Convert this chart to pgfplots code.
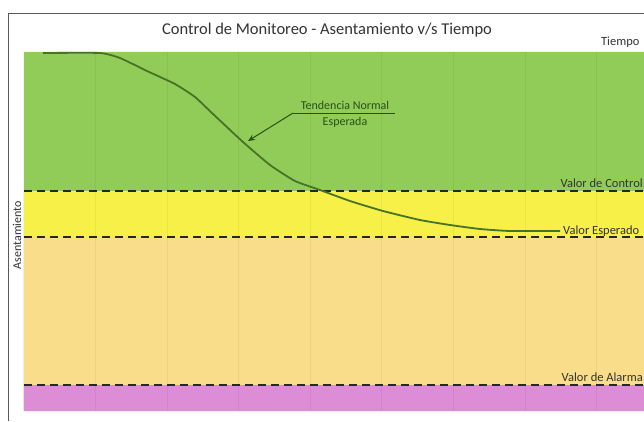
\documentclass[border=0pt]{standalone}
\usepackage{fontspec}
\setmainfont{Carlito}
\usepackage{pgfplots}
\pgfplotsset{compat=1.18}
\usetikzlibrary{arrows.meta}
\definecolor{bgreen}{RGB}{146,204,88}
\definecolor{byellow}{RGB}{246,240,72}
\definecolor{bpeach}{RGB}{250,221,138}
\definecolor{bpink}{RGB}{221,140,214}
\definecolor{cgreen}{RGB}{70,115,40}
\definecolor{tgreen}{RGB}{40,80,25}
\begin{document}
\begin{tikzpicture}[x=1pt,y=1pt]
\path[use as bounding box] (0,0) rectangle (644,421);
\fill[white] (0,0) rectangle (644,421);
\draw[gray!70!black, line width=1pt] (8,0) -- (8,407) -- (644,407);
\begin{axis}[
  at={(24pt,10pt)}, anchor=south west,
  scale only axis, width=620pt, height=359pt,
  xmin=24, xmax=644, ymin=10, ymax=369,
  axis line style={draw=none},
  tick style={draw=none},
  xtick={95,167,238,310,381,453,525,596},
  xticklabels={}, ytick=\empty,
  xmajorgrids, grid style={black, opacity=0.05, line width=0.8pt},
  axis on top,
  clip=false,
]
\addplot[draw=none, fill=bgreen] coordinates {(24,230) (644,230) (644,369) (24,369)} \closedcycle;
\addplot[draw=none, fill=byellow] coordinates {(24,184) (644,184) (644,230) (24,230)} \closedcycle;
\addplot[draw=none, fill=bpeach] coordinates {(24,36) (644,36) (644,184) (24,184)} \closedcycle;
\addplot[draw=none, fill=bpink] coordinates {(24,10) (644,10) (644,36) (24,36)} \closedcycle;
\addplot[black!85, line width=1.9pt, dash pattern=on 8pt off 5pt] coordinates {(24,230) (644,230)};
\addplot[black!85, line width=1.9pt, dash pattern=on 8pt off 5pt] coordinates {(24,184) (644,184)};
\addplot[black!85, line width=1.9pt, dash pattern=on 8pt off 5pt] coordinates {(24,36) (644,36)};
\addplot[cgreen, line width=1.8pt, smooth, tension=0.3] coordinates {
 (43,368) (100,368) (120,363) (147,350) (175,337) (195,324) (213,307)
 (243,279) (270,256) (295,240) (320,231) (350,220) (383,210) (420,201)
 (450,196) (480,192) (510,190) (560,190)};
\draw[tgreen, line width=1pt] (axis cs:395,308) -- (axis cs:293,308);
\draw[tgreen, line width=1pt, -{Stealth[length=7pt,width=6pt]}] (axis cs:293,308) -- (axis cs:248,280);
\node[tgreen, font=\fontsize{12}{14}\selectfont] at (axis cs:345,316) {Tendencia Normal};
\node[tgreen, font=\fontsize{12}{14}\selectfont] at (axis cs:345,299) {Esperada};
\node[black!80, anchor=base east, inner sep=0pt, font=\fontsize{12.5}{14}\selectfont] at (axis cs:643,234) {Valor de Control};
\node[black!80, anchor=base west, inner sep=0pt, font=\fontsize{12.5}{14}\selectfont] at (axis cs:563,187) {Valor Esperado};
\node[black!80, anchor=base east, inner sep=0pt, font=\fontsize{12.5}{14}\selectfont] at (axis cs:643,40) {Valor de Alarma};
\end{axis}
\node[black!80, font=\fontsize{16.5}{19}\selectfont] at (327,391) {Control de Monitoreo - Asentamiento v/s Tiempo};
\node[black!80, anchor=east, font=\fontsize{12.5}{14}\selectfont] at (643,379) {Tiempo};
\node[black!80, rotate=90, font=\fontsize{12}{14}\selectfont] at (17,186) {Asentamiento};
\end{tikzpicture}
\end{document}
